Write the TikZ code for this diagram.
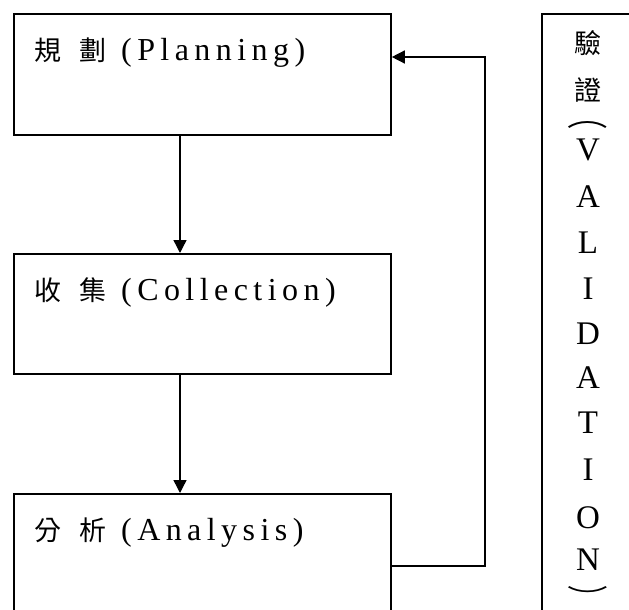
\documentclass[tikz,border=0pt]{standalone}
\usepackage{fontspec}
\setmainfont{Liberation Serif}
\newfontfamily\cjkfont{Noto Sans CJK TC}
\newfontfamily\spacedfont[LetterSpace=17]{Liberation Serif}
\usetikzlibrary{arrows.meta}
\newcommand\cjkc[1]{{\cjkfont\fontsize{27}{27}\selectfont #1}}
\newcommand\boxlabel[3]{\cjkc{#1}\hspace{18pt}\cjkc{#2}\hspace{15pt}{\spacedfont\fontsize{32}{32}\selectfont (#3)}}
\begin{document}
\begin{tikzpicture}[x=1pt,y=-1pt,
  stagebox/.style={draw, line width=1.8pt, minimum width=377pt, anchor=north west, inner sep=0pt},
  lbl/.style={anchor=base west, inner sep=0pt},
  conn/.style={line width=1.4pt},
  arr/.style={conn, -{Triangle[length=13pt,width=13pt]}},
  vch/.style={inner sep=0pt, anchor=center}]
\useasboundingbox (0,0) rectangle (629,610);
\clip (0,0) rectangle (629,610);
\fill[white] (0,0) rectangle (629,610);
% boxes
\node[stagebox, minimum height=121pt] (plan) at (13,13) {};
\node[stagebox, minimum height=120pt] (coll) at (13,253) {};
\node[stagebox, minimum height=140pt] (ana) at (13,493) {};
\node[draw, line width=1.8pt, minimum width=120pt, minimum height=640pt, anchor=north west, inner sep=0pt] (val) at (541,13) {};
% labels
\node[lbl] (tplan) at (34,60) {\boxlabel{規}{劃}{Planning}};
\node[lbl] (tcoll) at (34,300) {\boxlabel{收}{集}{Collection}};
\node[lbl] (tana) at (34,540) {\boxlabel{分}{析}{Analysis}};
% vertical text
\foreach \c/\y/\n in {驗/43/v1, 證/90/v2}
  \node[vch] (\n) at (588,\y) {\cjkc{\c}};
\node[vch] (v3) at (588,125) {\scalebox{1.5}[1]{\cjkc{︵}}};
\foreach \c/\y/\n in {V/150/v4, A/197/v5, L/243/v6, I/289/v7, D/334/v8, A/378/v9, T/423/v10, I/470/v11, O/518/v12, N/560/v13}
  \node[vch] (\n) at (588,\y) {\fontsize{33}{33}\selectfont \c};
\node[inner sep=0pt, anchor=base] (v14) at (588,606) {\scalebox{1.7}[1]{\cjkfont\fontsize{24}{24}\selectfont ︶}};
% connectors
\coordinate (ax) at (180,0);
\coordinate (fb) at (485,0);
\coordinate (fy) at (0,566);
\coordinate (fy2) at (0,57);
\draw[arr] (plan.south -| ax) -- (coll.north -| ax);
\draw[arr] (coll.south -| ax) -- (ana.north -| ax);
\draw[arr] (ana.east |- fy) -- (fb |- fy) -- (fb |- fy2) -- (plan.east |- fy2);
\end{tikzpicture}
\end{document}
